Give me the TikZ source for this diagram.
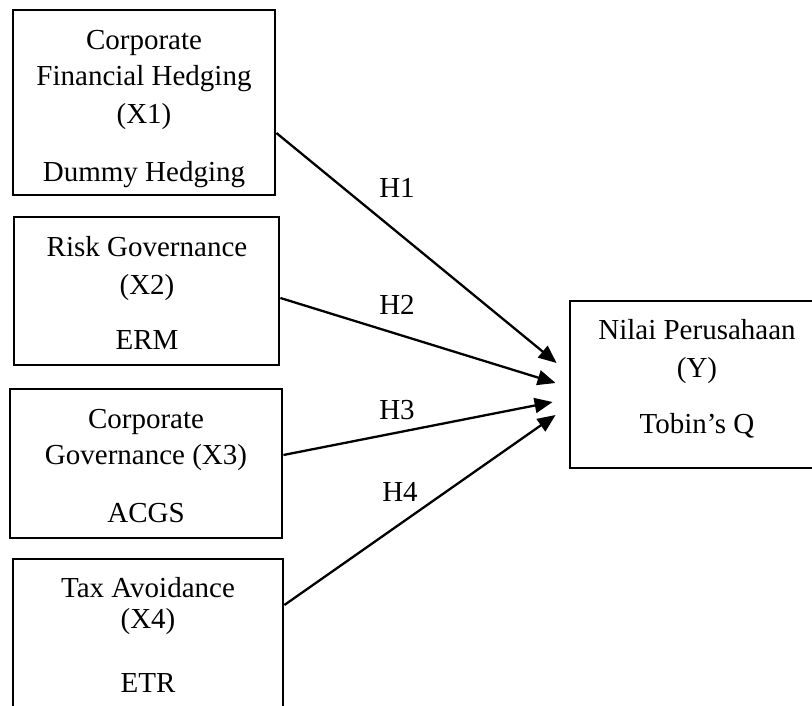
\documentclass[tikz,border=0pt]{standalone}
\usepackage{fontspec}
\setmainfont{Liberation Serif}
\usetikzlibrary{arrows.meta}
\begin{document}
\begin{tikzpicture}[x=1pt,y=-1pt,
  box/.style={draw=black,line width=2.8pt,minimum width=#1,inner sep=0pt,rectangle},
  txt/.style={anchor=base,inner sep=0pt,font=\fontsize{29}{35}\selectfont},
  conn/.style={line width=2.3pt,-{Triangle[length=18pt,width=15pt]}}]
\clip (0,0) rectangle (812,706);
\fill[white] (0,0) rectangle (812,706);
% boxes
\node[box=262pt,minimum height=185pt] (b1) at (144,102.5) {};
\node[box=265pt,minimum height=148pt] (b2) at (146.5,291) {};
\node[box=272pt,minimum height=149pt] (b3) at (146,463.5) {};
\node[box=270pt,minimum height=161pt] (b4) at (148,639.5) {};
\node[box=255pt,minimum height=167pt] (y) at (697.5,384.5) {};
% texts box 1
\node[txt] (b1l1) at (144,50) {Corporate};
\node[txt] (b1l2) at (144,86) {Financial Hedging};
\node[txt] (b1l3) at (144,124) {(X1)};
\node[txt] (b1l4) at (144,182) {Dummy Hedging};
% box 2
\node[txt] (b2l1) at (147,256) {Risk Governance};
\node[txt] (b2l2) at (147,294) {(X2)};
\node[txt] (b2l3) at (147,349) {ERM};
% box 3
\node[txt] (b3l1) at (146,428) {Corporate};
\node[txt] (b3l2) at (146,464) {Governance (X3)};
\node[txt] (b3l3) at (146,522) {ACGS};
% box 4
\node[txt] (b4l1) at (148,597) {Tax Avoidance};
\node[txt] (b4l2) at (148,628) {(X4)};
\node[txt] (b4l3) at (148,692) {ETR};
% box Y
\node[txt] (yl1) at (697,339) {Nilai Perusahaan};
\node[txt] (yl2) at (697,377) {(Y)};
\node[txt] (yl3) at (697,433) {Tobin’s Q};
% connectors
\draw[conn] ([yshift=-30.5pt]b1.east) -- ([xshift=-12pt,yshift=21.5pt]y.west);
\draw[conn] ([yshift=-7pt]b2.east) -- ([xshift=-13pt,yshift=1.5pt]y.west);
\draw[conn] ([yshift=8.5pt]b3.east) -- ([xshift=-16pt,yshift=-17.5pt]y.west);
\draw[conn] ([yshift=34.5pt]b4.east) -- ([xshift=-13pt,yshift=-30.5pt]y.west);
% labels
\node[txt] (h1) at (397,198) {H1};
\node[txt] (h2) at (397,314) {H2};
\node[txt] (h3) at (397,419) {H3};
\node[txt] (h4) at (400,501) {H4};
\end{tikzpicture}
\end{document}
